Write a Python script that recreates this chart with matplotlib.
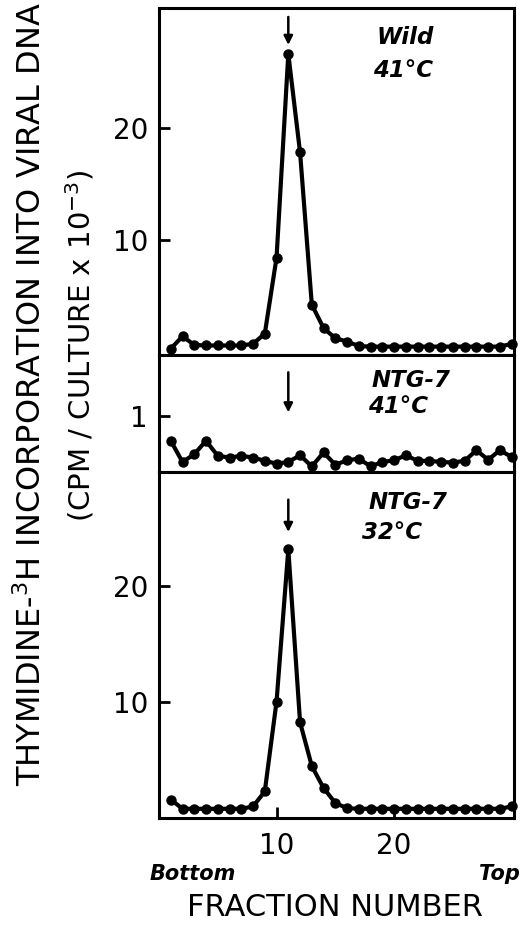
import matplotlib
matplotlib.use("Agg")
import matplotlib.pyplot as plt

fractions = list(range(1, 31))

wild_41 = [0.26, 1.37, 0.6, 0.55, 0.55, 0.55, 0.55, 0.7, 1.6, 8.4,
           26.6, 17.8, 4.2, 2.1, 1.2, 0.9, 0.5, 0.45, 0.45, 0.45,
           0.45, 0.45, 0.45, 0.45, 0.45, 0.45, 0.45, 0.45, 0.45, 0.7]

ntg7_41 = [0.56, 0.18, 0.32, 0.56, 0.29, 0.26, 0.29, 0.26, 0.20, 0.15,
           0.18, 0.30, 0.10, 0.35, 0.13, 0.21, 0.24, 0.10, 0.18, 0.21,
           0.30, 0.20, 0.20, 0.18, 0.17, 0.20, 0.39, 0.22, 0.39, 0.27]

ntg7_32 = [1.5, 0.7, 0.7, 0.7, 0.7, 0.7, 0.7, 0.9, 2.2, 10.0,
           23.2, 8.2, 4.4, 2.5, 1.2, 0.75, 0.7, 0.7, 0.7, 0.7,
           0.7, 0.7, 0.7, 0.7, 0.7, 0.7, 0.7, 0.7, 0.7, 0.9]

panels = [
    (wild_41, "Wild", "41°C", (-0.3, 30.7), [10, 20], ["10", "20"]),
    (ntg7_41, "NTG-7", "41°C", (0, 2.1), [1], ["1"]),
    (ntg7_32, "NTG-7", "32°C", (-0.1, 29.9), [10, 20], ["10", "20"]),
]
peak_fraction = 11

fig = plt.figure(figsize=(5.2, 9.35), dpi=100)
W, H = 520, 935
left, right = 159, 514
boxes = [(8, 355), (355, 472), (472, 818)]
# label positions (axes fraction) for the two lines of each panel title
label_pos = [((0.614, 0.914), (0.603, 0.82)),
             ((0.60, 0.786), (0.59, 0.564)),
             ((0.589, 0.913), (0.572, 0.824))]
arrow_y = [(29.9, 27.4), (1.79, 1.07), (27.5, 24.7)]

axes = []
for i, (vals, name, temp, ylim, yt, ytl) in enumerate(panels):
    top, bot = boxes[i]
    ax = fig.add_axes([left / W, 1 - bot / H, (right - left) / W, (bot - top) / H])
    ax.plot(fractions, vals, color="black", lw=3, marker="o", ms=6.5,
            clip_on=False, zorder=3)
    ax.set_xlim(0, 30.2)
    ax.set_ylim(*ylim)
    ax.set_yticks(yt)
    ax.set_yticklabels(ytl)
    ax.tick_params(axis="y", direction="in", length=8, width=2,
                   labelsize=20, pad=8)
    if i < 2:
        ax.set_xticks([])
    for s in ax.spines.values():
        s.set_linewidth(2.2)
    (x1, y1), (x2, y2) = label_pos[i]
    ax.text(x1, y1, name, transform=ax.transAxes, fontsize=16.5,
            fontstyle="italic", fontweight="bold", va="center", ha="left")
    ax.text(x2, y2, temp, transform=ax.transAxes, fontsize=16.5,
            fontstyle="italic", fontweight="bold", va="center", ha="left")
    ya, yb = arrow_y[i]
    ax.annotate("", xy=(peak_fraction, yb), xytext=(peak_fraction, ya),
                arrowprops=dict(arrowstyle="-|>", lw=1.8, color="black",
                                mutation_scale=13, shrinkA=0, shrinkB=0))
    axes.append(ax)

ax = axes[2]
ax.set_xticks([10, 20])
ax.set_xticklabels(["10", "20"])
ax.tick_params(axis="x", direction="in", length=8, width=2,
               labelsize=20, pad=10)

fig.text(150 / W, 1 - 874 / H, "Bottom", fontsize=15, fontstyle="italic",
         fontweight="bold", ha="left", va="center")
fig.text(520 / W, 1 - 874 / H, "Top", fontsize=15, fontstyle="italic",
         fontweight="bold", ha="right", va="center")
fig.text(335 / W, 1 - 907 / H, "FRACTION NUMBER", fontsize=22,
         ha="center", va="center")

fig.text(32 / W, 1 - 394 / H,
         "THYMIDINE-$^{3}$H INCORPORATION INTO VIRAL DNA",
         fontsize=23, rotation=90, ha="center", va="center")
fig.text(80 / W, 1 - 346 / H, "(CPM / CULTURE x 10$^{-3}$)",
         fontsize=21, rotation=90, ha="center", va="center")

fig.savefig("out.png", dpi=100)
